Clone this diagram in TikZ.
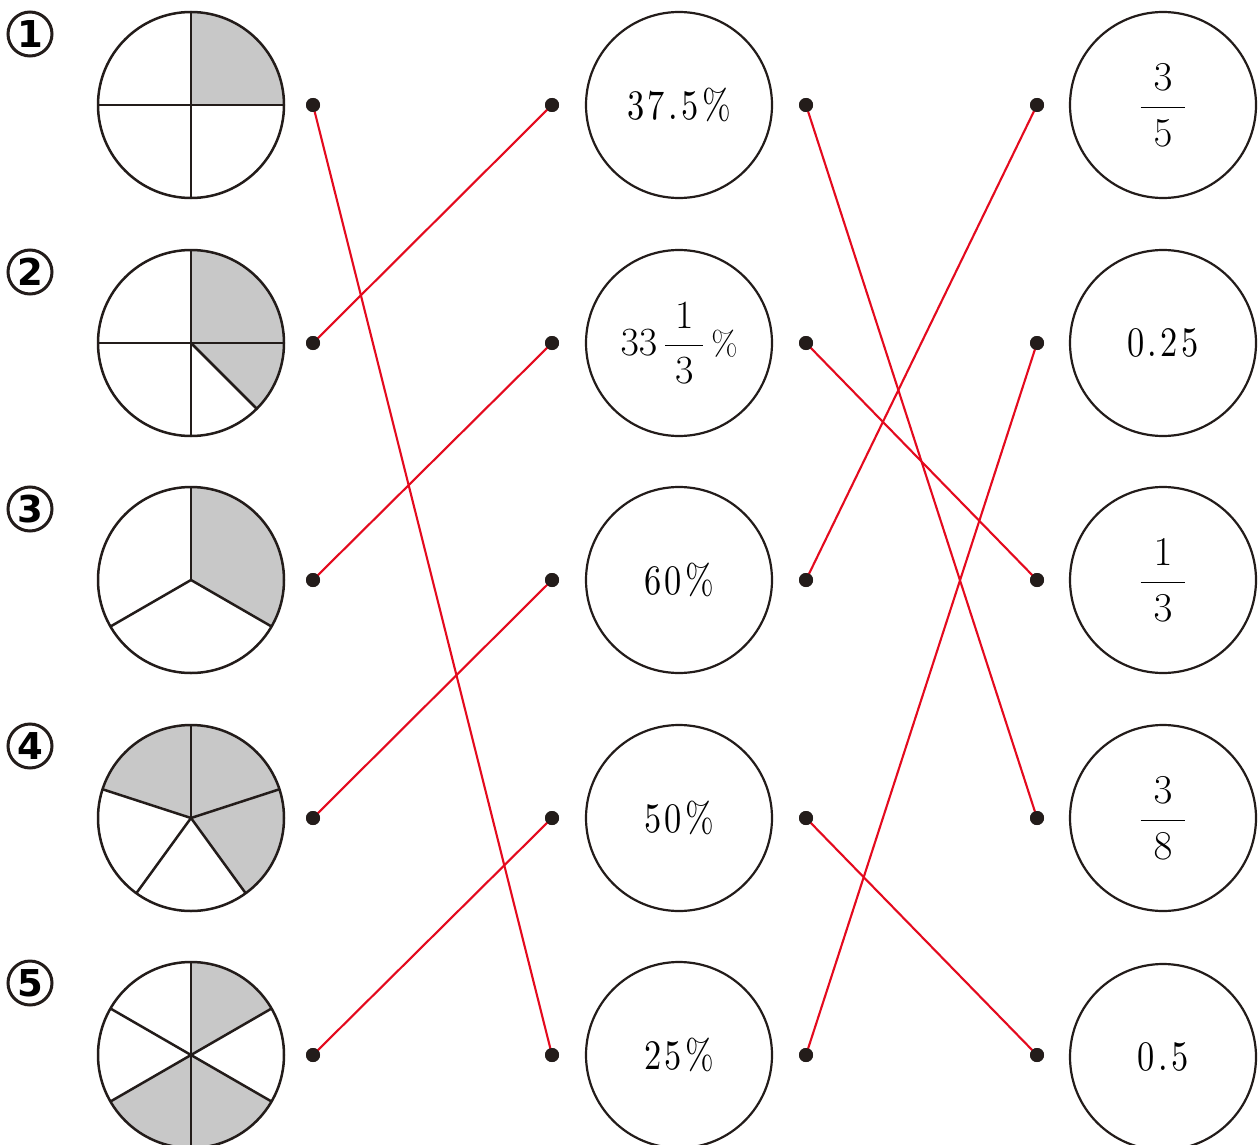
\RequirePackage{fix-cm}
\documentclass[tikz,border=0pt]{standalone}
\usepackage{amsmath}
\usepackage{graphicx}
\usepackage{fontspec}
\newfontfamily\numfont{lmroman10-regular.otf}[LetterSpace=10]
\newfontfamily\circfont{DejaVu Sans}
\definecolor{ink}{RGB}{35,28,26}
\definecolor{linkred}{RGB}{228,10,30}
\definecolor{shadegray}{RGB}{200,200,200}
\newcommand\val[1]{{\numfont\fontsize{42}{44}\selectfont\scalebox{0.82}[1]{#1}}}
\newcommand\fr[2]{{\fontsize{41}{44}\selectfont$\displaystyle\frac{\hspace{13pt}#1\hspace{13pt}}{#2}$}}
\tikzset{
  pieline/.style={draw=ink, line width=2.5pt},
  sector/.style={fill=shadegray},
  valcirc/.style={circle, draw=ink, line width=2.2pt, minimum size=186pt, inner sep=0pt},
  dotnode/.style={circle, fill=ink, minimum size=14pt, inner sep=0pt},
  link/.style={draw=linkred, line width=2.1pt},
  numlab/.style={circle, draw=ink, line width=3pt, minimum size=44pt, inner sep=0pt,
    font=\circfont\bfseries\fontsize{37}{37}\selectfont}
}
\begin{document}
\begin{tikzpicture}[x=1pt,y=1pt]
\useasboundingbox (0,0) rectangle (1258,-1145);
\fill[white] (0,0) rectangle (1258,-1145);

% circled numbers
\node[numlab] (n1) at (30,-34) {1};
\node[numlab] (n2) at (30,-272) {2};
\node[numlab] (n3) at (30,-509) {3};
\node[numlab] (n4) at (30,-746) {4};
\node[numlab] (n5) at (30,-983) {5};

% pie centres
\coordinate (p1) at (191,-105);
\coordinate (p2) at (191,-343);
\coordinate (p3) at (191,-580);
\coordinate (p4) at (191,-818);
\coordinate (p5) at (191,-1055);

% pie 1 : 1/4
\fill[sector] (p1) -- +(0:93) arc[start angle=0,end angle=90,radius=93] -- cycle;
\foreach \a in {0,90,180,270} \draw[pieline] (p1) -- +(\a:93);
\draw[pieline] (p1) circle[radius=93];

% pie 2 : 3/8
\fill[sector] (p2) -- +(-45:93) arc[start angle=-45,end angle=90,radius=93] -- cycle;
\foreach \a in {0,90,180,270,-45} \draw[pieline] (p2) -- +(\a:93);
\draw[pieline] (p2) circle[radius=93];

% pie 3 : 1/3
\fill[sector] (p3) -- +(-30:93) arc[start angle=-30,end angle=90,radius=93] -- cycle;
\foreach \a in {90,210,330} \draw[pieline] (p3) -- +(\a:93);
\draw[pieline] (p3) circle[radius=93];

% pie 4 : 3/5
\fill[sector] (p4) -- +(-54:93) arc[start angle=-54,end angle=162,radius=93] -- cycle;
\foreach \a in {90,18,-54,-126,162} \draw[pieline] (p4) -- +(\a:93);
\draw[pieline] (p4) circle[radius=93];

% pie 5 : 1/2
\fill[sector] (p5) -- +(30:93) arc[start angle=30,end angle=90,radius=93] -- cycle;
\fill[sector] (p5) -- +(-150:93) arc[start angle=-150,end angle=-30,radius=93] -- cycle;
\foreach \a in {90,30,-30,-90,-150,150} \draw[pieline] (p5) -- +(\a:93);
\draw[pieline] (p5) circle[radius=93];

% middle circles
\node[valcirc] (m1) at (679,-105) {\val{37.5\%}};
\node[valcirc] (m2) at (679,-343) {{\fontsize{40}{44}\selectfont$\displaystyle 33\,\frac{\hspace{10pt}1\hspace{10pt}}{3}\,\scalebox{0.85}{\%}$}};
\node[valcirc] (m3) at (679,-580) {\val{60\%}};
\node[valcirc] (m4) at (679,-818) {\val{50\%}};
\node[valcirc] (m5) at (679,-1055) {\val{25\%}};

% right circles
\node[valcirc] (r1) at (1163,-105) {\fr{3}{5}};
\node[valcirc] (r2) at (1163,-343) {\val{0.25}};
\node[valcirc] (r3) at (1163,-580) {\fr{1}{3}};
\node[valcirc] (r4) at (1163,-818) {\fr{3}{8}};
\node[valcirc] (r5) at (1163,-1057) {\val{0.5}};

% dots
\foreach \i/\y in {1/-105,2/-343,3/-580,4/-818,5/-1055}{
  \node[dotnode] (a\i) at (313,\y) {};
  \node[dotnode] (b\i) at (552,\y) {};
  \node[dotnode] (c\i) at (806,\y) {};
  \node[dotnode] (d\i) at (1037,\y) {};
}

% links
\draw[link] (a1.center) -- (b5.center);
\draw[link] (a2.center) -- (b1.center);
\draw[link] (a3.center) -- (b2.center);
\draw[link] (a4.center) -- (b3.center);
\draw[link] (a5.center) -- (b4.center);
\draw[link] (c1.center) -- (d4.center);
\draw[link] (c2.center) -- (d3.center);
\draw[link] (c3.center) -- (d1.center);
\draw[link] (c4.center) -- (d5.center);
\draw[link] (c5.center) -- (d2.center);

% redraw dots on top
\foreach \i/\y in {1/-105,2/-343,3/-580,4/-818,5/-1055}{
  \fill[ink] (a\i) circle[radius=7];
  \fill[ink] (b\i) circle[radius=7];
  \fill[ink] (c\i) circle[radius=7];
  \fill[ink] (d\i) circle[radius=7];
}
\end{tikzpicture}
\end{document}
